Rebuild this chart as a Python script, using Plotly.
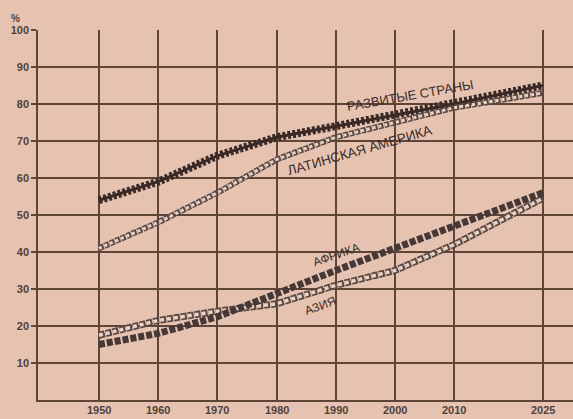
import plotly.graph_objects as go

years = [1950, 1960, 1970, 1980, 1990, 2000, 2010, 2025]
developed = [54, 59, 66, 71, 74, 77, 80, 85]
latin_america = [41, 48, 56, 65, 71, 75, 79, 83]
africa = [15, 18, 22.5, 29, 35, 41, 47, 56]
asia = [17.5, 21.5, 24, 26, 31, 35, 42, 54.5]

x_ticks = [1950, 1960, 1970, 1980, 1990, 2000, 2010, 2025]
y_ticks = [10, 20, 30, 40, 50, 60, 70, 80, 90, 100]

BG = "#e6c3b0"
INK = "#4f413c"
GRID = "#5e4536"

fig = go.Figure()

# Developed countries: serrated dark chain
fig.add_trace(go.Scatter(x=years, y=developed, mode="lines",
                         line=dict(color="#3a2a27", width=3), hoverinfo="skip"))
fig.add_trace(go.Scatter(x=years, y=developed, mode="lines",
                         line=dict(color="#3a2a27", width=8, dash="3px,2px"), hoverinfo="skip"))

# Latin America: open circles chain
fig.add_trace(go.Scatter(x=years, y=latin_america, mode="lines",
                         line=dict(color="#5a4a46", width=6, dash="5px,1px"), hoverinfo="skip"))
fig.add_trace(go.Scatter(x=years, y=latin_america, mode="lines",
                         line=dict(color="#ecd3c4", width=3, dash="3px,3px"), hoverinfo="skip"))

# Asia: open chain
fig.add_trace(go.Scatter(x=years, y=asia, mode="lines",
                         line=dict(color="#5a4a46", width=7, dash="6px,1px"), hoverinfo="skip"))
fig.add_trace(go.Scatter(x=years, y=asia, mode="lines",
                         line=dict(color="#ecd3c4", width=3.5, dash="4px,3px"), hoverinfo="skip"))

# Africa: filled squares chain
fig.add_trace(go.Scatter(x=years, y=africa, mode="lines",
                         line=dict(color="#463836", width=7, dash="6px,2px"), hoverinfo="skip"))

font = "Liberation Sans"
ann = [
    dict(x=2002.5, y=82.4, text="РАЗВИТЫЕ СТРАНЫ", textangle=-10, size=13),
    dict(x=1994.0, y=67.4, text="ЛАТИНСКАЯ АМЕРИКА", textangle=-16, size=13.5),
    dict(x=1990.0, y=39.3, text="АФРИКА", textangle=-19, size=12),
    dict(x=1987.3, y=25.5, text="АЗИЯ", textangle=-20, size=12),
]
for a in ann:
    fig.add_annotation(x=a["x"], y=a["y"], text=a["text"], textangle=a["textangle"],
                       showarrow=False, font=dict(family=font, size=a["size"], color="#3a2a27"))

# x tick labels placed just under the axis
for v in x_ticks:
    fig.add_annotation(x=v, y=0, xref="x", yref="paper", text="<b>%d</b>" % v,
                       showarrow=False, yanchor="top", yshift=-2,
                       font=dict(family=font, size=11, color=INK))

fig.add_annotation(x=-0.03, y=1.01, xref="paper", yref="paper", text="<b>%</b>",
                   showarrow=False, xanchor="right", yanchor="bottom",
                   font=dict(family=font, size=10, color=INK))

fig.update_layout(
    width=573, height=419,
    margin=dict(l=38, r=0, t=30, b=19),
    paper_bgcolor=BG, plot_bgcolor=BG,
    showlegend=False,
    font=dict(family=font, size=11, color=INK),
)
fig.update_xaxes(range=[1939.7, 2030.1], tickvals=x_ticks, showticklabels=False,
                 showgrid=True, gridcolor=GRID, gridwidth=1.5, zeroline=False,
                 showline=True, linecolor=GRID, linewidth=1.5, ticks="")
fig.update_yaxes(range=[0, 100], tickvals=y_ticks, ticktext=["<b>%d</b>" % v for v in y_ticks],
                 showgrid=True, gridcolor=GRID, gridwidth=1.5, zeroline=False,
                 showline=True, linecolor=GRID, linewidth=1.5,
                 ticks="outside", ticklen=5, tickcolor=GRID, tickwidth=1.5,
                 tickfont=dict(family=font, size=11, color=INK))

fig.write_html(
    "out.html",
    config={"displayModeBar": False},
    post_script="document.body.style.margin='0';document.body.style.background='%s';" % BG,
)
